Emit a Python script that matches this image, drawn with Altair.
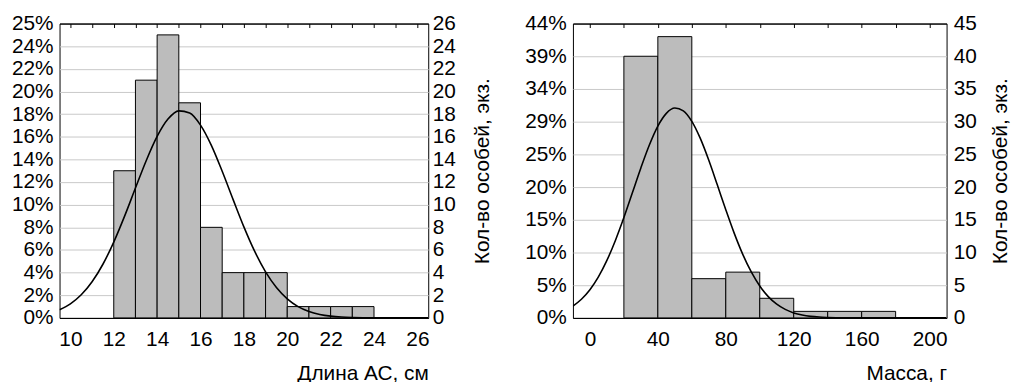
import altair as alt
import pandas as pd

FONT = "Liberation Sans"
FS = 21

# ---------- Left panel: Длина АС, см ----------
len_bin_start = [12, 13, 14, 15, 16, 17, 18, 19, 20, 21, 22, 23]
len_bin_end = [13, 14, 15, 16, 17, 18, 19, 20, 21, 22, 23, 24]
len_counts = [13, 21, 25, 19, 8, 4, 4, 4, 1, 1, 1, 1]
len_curve_x = [9.5, 10, 10.5, 11, 11.5, 12, 12.5, 13, 13.5, 14, 14.5, 15, 15.5, 16, 16.5,
               17, 17.5, 18, 18.5, 19, 19.5, 20, 20.5, 21, 21.5, 22, 22.5, 23, 23.5, 24, 25, 26.5]
len_curve_y = [0.72, 1.24, 2.04, 3.19, 4.74, 6.70, 8.99, 11.47, 13.91, 16.03, 17.56, 18.29, 18.10,
               17.03, 15.24, 12.95, 10.47, 8.04, 5.87, 4.07, 2.69, 1.69, 1.00, 0.57, 0.31, 0.16,
               0.08, 0.04, 0.02, 0.01, 0.0, 0.0]
len_count_ticks = [0, 2, 4, 6, 8, 10, 12, 14, 16, 18, 20, 22, 24, 26]
len_pct_labels = ["0%", "2%", "4%", "6%", "8%", "10%", "12%", "14%", "16%", "18%", "20%",
                  "22%", "24%", "25%"]
len_x_labels = [10, 12, 14, 16, 18, 20, 22, 24, 26]
len_x_minor = list(range(10, 27))

# ---------- Right panel: Масса, г ----------
mass_bin_start = [20, 40, 60, 80, 100, 120, 140, 160]
mass_bin_end = [40, 60, 80, 100, 120, 140, 160, 180]
mass_counts = [40, 43, 6, 7, 3, 1, 1, 1]
mass_curve_x = [-10, -5, 0, 5, 10, 15, 20, 25, 30, 35, 40, 45, 50, 55, 60, 65, 70, 75, 80, 85,
                90, 95, 100, 105, 110, 115, 120, 125, 130, 135, 140, 145, 150, 170, 190, 210]
mass_curve_y = [1.81, 2.85, 4.31, 6.28, 8.79, 11.84, 15.34, 19.13, 22.93, 26.43, 29.32, 31.27,
                32.08, 31.66, 30.05, 27.44, 24.10, 20.35, 16.54, 12.92, 9.71, 7.02, 4.88, 3.26,
                2.10, 1.30, 0.77, 0.44, 0.24, 0.13, 0.07, 0.03, 0.01, 0.0, 0.0, 0.0]
mass_count_ticks = [0, 5, 10, 15, 20, 25, 30, 35, 40, 45]
mass_pct_labels = ["0%", "5%", "10%", "15%", "20%", "25%", "29%", "34%", "39%", "44%"]
mass_x_labels = [0, 40, 80, 120, 160, 200]
mass_x_minor = [0, 20, 40, 60, 80, 100, 120, 140, 160, 180, 200]

Y_TITLE = "Кол-во особей, экз."
BAR_FILL = "#bcbcbc"
GRID = "#c8c8c8"


def panel(starts, ends, counts, cx, cy, xdom, xlabels, xminor, ymax, yticks, pct, step,
          xtitle, w, h, lpad_left, lpad_right, title_off):
    bars_df = pd.DataFrame({"start": starts, "end": ends, "count": counts})
    curve_df = pd.DataFrame({"cx": cx, "cy": cy})
    xs = alt.Scale(domain=xdom, nice=False, zero=False)
    ys = alt.Scale(domain=[0, ymax], nice=False, zero=True)
    expr = "[" + ",".join("'%s'" % s for s in pct) + "][round(datum.value / %d)]" % step

    bars = alt.Chart(bars_df).mark_bar(
        fill=BAR_FILL, stroke="black", strokeWidth=1, opacity=1
    ).encode(
        x=alt.X("start:Q", scale=xs, axis=alt.Axis(
            orient="bottom", values=xlabels, grid=False, ticks=False, domain=False,
            labelPadding=11, labelFlush=False, labelOverlap=False,
            title=xtitle, titleAnchor="end", titleY=62, titleBaseline="alphabetic")),
        x2="end:Q",
        y=alt.Y("count:Q", scale=ys, axis=alt.Axis(
            orient="left", values=yticks, labelExpr=expr, grid=True,
            gridColor=alt.condition("datum.value == 0 || datum.value == %d" % ymax,
                                    alt.value("black"), alt.value(GRID)),
            gridWidth=1, ticks=False, domain=False, labelPadding=lpad_left,
            labelFlush=False, labelOverlap=False, title=None)),
        y2=alt.datum(0),
    )

    curve = alt.Chart(curve_df).mark_line(
        color="black", strokeWidth=1.6, interpolate="monotone", clip=True
    ).encode(
        x=alt.X("cx:Q", scale=xs, axis=alt.Axis(
            orient="top", values=xminor, labels=False, grid=False, ticks=True,
            tickSize=4, tickColor="black", tickWidth=1, offset=-4, domain=False, title=None)),
        y=alt.Y("cy:Q", scale=ys, axis=alt.Axis(
            orient="right", values=yticks, grid=False, ticks=False, domain=False,
            labelPadding=lpad_right, labelFlush=False, labelOverlap=False,
            title=Y_TITLE, titleAngle=270, titleX=title_off, titleY=h / 2,
            titleAlign="center", titleBaseline="middle")),
    )

    return alt.layer(bars, curve).resolve_axis(x="independent", y="independent").properties(
        width=w, height=h)


left = panel(len_bin_start, len_bin_end, len_counts, len_curve_x, len_curve_y,
             [9.5, 26.5], len_x_labels, len_x_minor, 26, len_count_ticks, len_pct_labels, 2,
             "Длина АС, см", 372, 297, 6.5, 4, 55)
right = panel(mass_bin_start, mass_bin_end, mass_counts, mass_curve_x, mass_curve_y,
              [-10, 210], mass_x_labels, mass_x_minor, 45, mass_count_ticks, mass_pct_labels, 5,
              "Масса, г", 377, 297, 6.7, 6.7, 54)

chart = alt.hconcat(left, right, spacing=30).configure_view(
    stroke="black", strokeWidth=1, fill="white"
).configure_axis(
    labelFont=FONT, titleFont=FONT, labelFontSize=FS, titleFontSize=FS,
    labelColor="black", titleColor="black", titleFontWeight="normal"
).properties(
    padding={"left": 2, "top": 2, "right": 0, "bottom": 0},
    background="white"
)

chart.save("out.html", embed_options={"renderer": "svg", "actions": False})
